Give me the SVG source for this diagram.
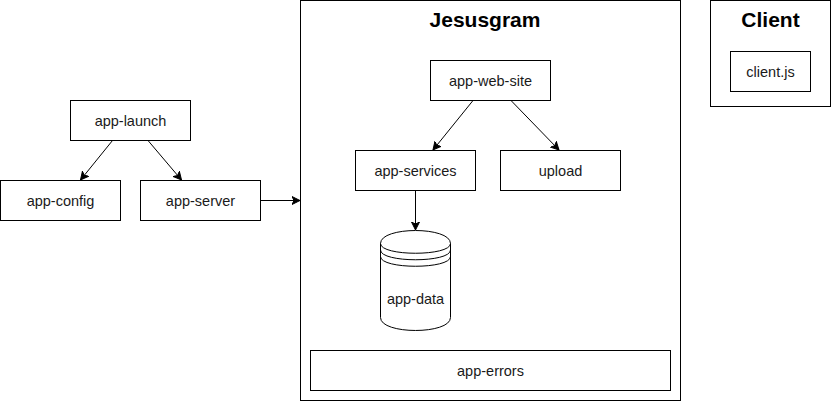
<svg xmlns="http://www.w3.org/2000/svg" width="831" height="401" viewBox="0 0 831 401">
<defs>
<style>
.box{fill:#fff;stroke:#000;stroke-width:1}
.lbl{font-family:"Liberation Sans",Arial,sans-serif;font-size:14.5px;fill:#1a1a1a;text-anchor:middle}
.ttl{font-family:"Liberation Sans",Arial,sans-serif;font-size:21px;font-weight:bold;fill:#000;text-anchor:middle}
.edge{fill:none;stroke:#000;stroke-width:1}
</style>
<marker id="arr" markerUnits="userSpaceOnUse" markerWidth="10" markerHeight="10" refX="8" refY="4.5" orient="auto" viewBox="0 0 10 9">
<path d="M0,0.5 L8,4.5 L0,8.5 L2,4.5 z" fill="#000" stroke="#000" stroke-width="1"/>
</marker>
</defs>
<rect width="831" height="401" fill="#fff"/>
<g id="jesusgram">
<rect class="box" x="300.5" y="0.5" width="380" height="400"/>
<text class="ttl" x="485" y="27">Jesusgram</text>
</g>
<g id="client">
<rect class="box" x="710.5" y="0.5" width="120" height="106"/>
<text class="ttl" x="770.5" y="27">Client</text>
</g>
<g id="client-js">
<rect class="box" x="730.5" y="51.5" width="80" height="40"/>
<text class="lbl" x="770.5" y="76.5">client.js</text>
</g>
<g id="app-launch">
<rect class="box" x="70.5" y="100.5" width="120" height="40"/>
<text class="lbl" x="130.5" y="125.5">app-launch</text>
</g>
<g id="app-config">
<rect class="box" x="0.5" y="180.5" width="120" height="40"/>
<text class="lbl" x="60.5" y="205.5">app-config</text>
</g>
<g id="app-server">
<rect class="box" x="140.5" y="180.5" width="120" height="40"/>
<text class="lbl" x="200.5" y="205.5">app-server</text>
</g>
<g id="app-web-site">
<rect class="box" x="430.5" y="60.5" width="120" height="40"/>
<text class="lbl" x="490.5" y="85.5">app-web-site</text>
</g>
<g id="app-services">
<rect class="box" x="355.5" y="150.5" width="120" height="40"/>
<text class="lbl" x="415.5" y="175.5">app-services</text>
</g>
<g id="upload">
<rect class="box" x="500.5" y="150.5" width="120" height="40"/>
<text class="lbl" x="560.5" y="175.5">upload</text>
</g>
<g id="app-data">
<path class="box" d="M380.5,243.5 C380.5,226.2 450.5,226.2 450.5,243.5 L450.5,317.5 C450.5,334.8 380.5,334.8 380.5,317.5 Z"/>
<path class="edge" d="M380.5,243.5 C380.5,256.5 450.5,256.5 450.5,243.5 M380.5,250 C380.5,263 450.5,263 450.5,250 M380.5,256.5 C380.5,269.5 450.5,269.5 450.5,256.5"/>
<text class="lbl" x="415.5" y="304">app-data</text>
</g>
<g id="app-errors">
<rect class="box" x="310.5" y="350.5" width="360" height="40"/>
<text class="lbl" x="490.5" y="375.5">app-errors</text>
</g>
<g id="connectors">
<line class="edge" x1="112.5" y1="140.5" x2="80.5" y2="180" marker-end="url(#arr)"/>
<line class="edge" x1="148" y1="140.5" x2="181.5" y2="180" marker-end="url(#arr)"/>
<line class="edge" x1="260.5" y1="200.5" x2="300" y2="200.5" marker-end="url(#arr)"/>
<line class="edge" x1="473" y1="100.5" x2="433" y2="150" marker-end="url(#arr)"/>
<line class="edge" x1="511" y1="100.5" x2="559" y2="150" marker-end="url(#arr)"/>
<line class="edge" x1="415.5" y1="190.5" x2="415.5" y2="230" marker-end="url(#arr)"/>
</g>
</svg>
